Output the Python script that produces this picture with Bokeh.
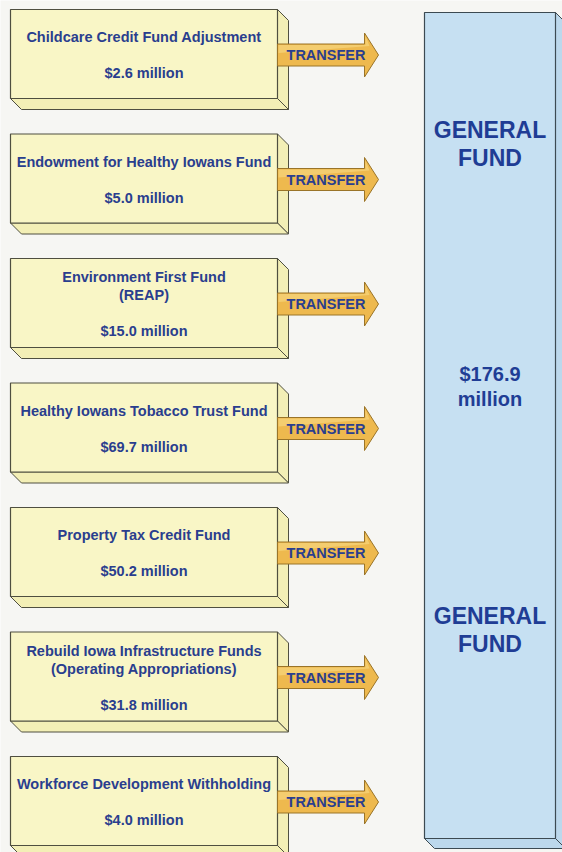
from bokeh.plotting import figure
from bokeh.models import Range1d
from bokeh.core.properties import value
from bokeh.embed import file_html
from bokeh.resources import INLINE

# ---- data ----
fund_names = [
    "Childcare Credit Fund Adjustment",
    "Endowment for Healthy Iowans Fund",
    "Environment First Fund|(REAP)",
    "Healthy Iowans Tobacco Trust Fund",
    "Property Tax Credit Fund",
    "Rebuild Iowa Infrastructure Funds|(Operating Appropriations)",
    "Workforce Development Withholding",
]
fund_amounts = [2.6, 5.0, 15.0, 69.7, 50.2, 31.8, 4.0]
arrow_label = "TRANSFER"
target_label = ["GENERAL", "FUND"]
target_total = 176.9

# ---- layout (page pixel coordinates) ----
W, H = 562, 852
L, R, BH, D = 10, 277, 89, 11
top0, step = 9, 124.5
BL, BR, BT, BB, BD = 424, 555, 12, 838, 10
HX, TIP = 364, 378

FONT = value("Liberation Sans")
TXT = "#2a3e8e"

p = figure(width=W, height=H, x_range=Range1d(0, W), y_range=Range1d(H, 0),
           output_backend="svg", toolbar_location=None, min_border=0,
           x_axis_type=None, y_axis_type=None,
           background_fill_color="#f6f6f3", border_fill_color="#f6f6f3",
           outline_line_color=None)
p.grid.visible = False

front_x, front_y, side_x, side_y = [], [], [], []
arr_x, arr_y, hi_x, hi_y = [], [], [], []
tx, ty, tt = [], [], []
lbl_x, lbl_y = [], []
for i, (name, amt) in enumerate(zip(fund_names, fund_amounts)):
    t = top0 + i * step
    b = t + BH
    front_x.append([L, R, R, L]); front_y.append([t, t, b, b])
    side_x.append([R, R + D, R + D, R]); side_y.append([t, t + D, b + D, b])
    side_x.append([L, R, R + D, L + D]); side_y.append([b, b, b + D, b + D])
    cy = t + BH / 2 + 1
    arr_x.append([R, HX, HX, TIP, HX, HX, R])
    arr_y.append([cy - 11, cy - 11, cy - 22, cy, cy + 22, cy + 11, cy + 11])
    hi_x.append([R + 1, HX + 1, HX + 1, TIP - 9, R + 1])
    hi_y.append([cy - 10, cy - 10, cy - 19, cy - 10 + 1, cy - 2])
    lbl_x.append((R + TIP) / 2 - 2); lbl_y.append(cy)
    c = t + BH / 2
    lines = name.split("|")
    k = len(lines)
    for j, ln in enumerate(lines):
        tx.append((L + R) / 2); ty.append(c - 17 - 9 * (k - 1) + 18 * j); tt.append(ln)
    tx.append((L + R) / 2); ty.append(c + 19 + 9 * (k - 1)); tt.append(f"${amt:.1f} million")

# general fund block
p.patches([[BR, BR + BD, BR + BD, BR], [BL, BR, BR + BD, BL + BD]],
          [[BT, BT + BD, BB + BD, BB], [BB, BB, BB + BD, BB + BD]],
          fill_color="#bcd8ec", line_color="#3c4a52", line_width=1)
p.patches([[BL, BR, BR, BL]], [[BT, BT, BB, BB]],
          fill_color="#c6e0f2", line_color="#3c4a52", line_width=1.2)

p.patches(side_x, side_y, fill_color="#f3efb6", line_color="#4f4f40", line_width=1)
p.patches(front_x, front_y, fill_color="#f9f6c6", line_color="#4f4f40", line_width=1.2)
p.patches(arr_x, arr_y, fill_color="#eeb94e", line_color="#9a7428", line_width=1)
p.patches(hi_x, hi_y, fill_color="#f7d57e", fill_alpha=0.7, line_color=None)

p.text(x=tx, y=ty, text=tt, text_font=FONT, text_font_style="bold",
       text_font_size="14.5px", text_color=TXT, text_align="center", text_baseline="middle")
p.text(x=lbl_x, y=lbl_y, text=[arrow_label] * len(lbl_x), text_font=FONT, text_font_style="bold",
       text_font_size="14.5px", text_color=TXT, text_align="center", text_baseline="middle")

cx = (BL + BR) / 2
gx = [cx] * 4
gy = [129, 157, 615, 643]
p.text(x=gx, y=gy, text=target_label + target_label, text_font=FONT, text_font_style="bold",
       text_font_size="23px", text_color="#1f3d95", text_align="center", text_baseline="middle")
p.text(x=[cx, cx], y=[373, 398], text=[f"${target_total:.1f}", "million"], text_font=FONT,
       text_font_style="bold", text_font_size="20px", text_color="#1f3d95",
       text_align="center", text_baseline="middle")

open("out.html", "w").write(file_html(p, INLINE))
